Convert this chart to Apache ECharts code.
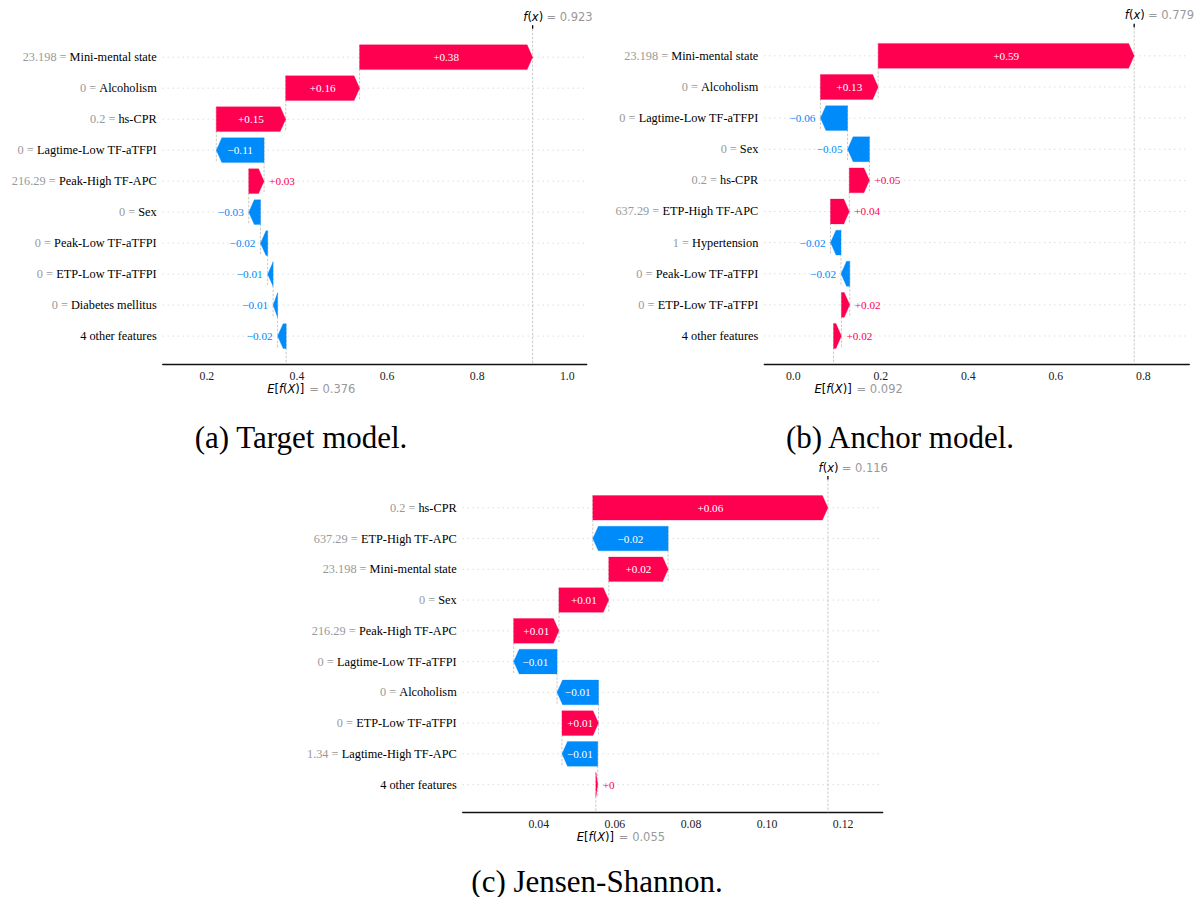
<!DOCTYPE html>
<html>
<head>
<meta charset="utf-8">
<script src="https://cdn.jsdelivr.net/npm/echarts@6/dist/echarts.min.js"></script>
<style>
html,body{margin:0;padding:0;background:#fff;}
#chart{width:1200px;height:897px;}
</style>
</head>
<body>
<div id="chart"></div>
<script>
// ---------------- DATA ----------------
// (a) Target model  (rows listed top to bottom)
const featuresA = ['Mini-mental state','Alcoholism','hs-CPR','Lagtime-Low TF-aTFPI','Peak-High TF-APC','Sex','Peak-Low TF-aTFPI','ETP-Low TF-aTFPI','Diabetes mellitus','4 other features'];
const featureValsA = ['23.198','0','0.2','0','216.29','0','0','0','0',''];
const shapA = [0.384, 0.164, 0.154, -0.106, 0.034, -0.026, -0.016, -0.012, -0.010, -0.019];
const baseA = 0.376;
const fxA = 0.923;
const ticksA = [0.2, 0.4, 0.6, 0.8, 1.0];

// (b) Anchor model
const featuresB = ['Mini-mental state','Alcoholism','Lagtime-Low TF-aTFPI','Sex','hs-CPR','ETP-High TF-APC','Hypertension','Peak-Low TF-aTFPI','ETP-Low TF-aTFPI','4 other features'];
const featureValsB = ['23.198','0','0','0','0.2','637.29','1','0','0',''];
const shapB = [0.585, 0.132, -0.062, -0.050, 0.046, 0.043, -0.024, -0.020, 0.019, 0.018];
const baseB = 0.092;
const fxB = 0.779;
const ticksB = [0.0, 0.2, 0.4, 0.6, 0.8];

// (c) Jensen-Shannon
const featuresC = ['hs-CPR','ETP-High TF-APC','Mini-mental state','Sex','Peak-High TF-APC','Lagtime-Low TF-aTFPI','Alcoholism','ETP-Low TF-aTFPI','Lagtime-High TF-APC','4 other features'];
const featureValsC = ['0.2','637.29','23.198','0','216.29','0','0','0','1.34',''];
const shapC = [0.0618, -0.0198, 0.0156, 0.0131, 0.0119, -0.0114, -0.0109, 0.0096, -0.0094, 0.0005];
const baseC = 0.055;
const fxC = 0.116;
const ticksC = [0.04, 0.06, 0.08, 0.10, 0.12];

const captions = ['(a) Target model.', '(b) Anchor model.', '(c) Jensen-Shannon.'];

// ---------------- STYLE / LAYOUT ----------------
const RED = '#ff0051', BLUE = '#008bfb';
const SERIF = '"Liberation Serif","Times New Roman",serif';
const SANS = '"DejaVu Sans",sans-serif';
const HEAD = 5.5;
const VAL_FONT = 11.2;

const panels = [
  {features: featuresA, fvals: featureValsA, shap: shapA, base: baseA, fx: fxA, ticks: ticksA, dec: 1,
   grid: {left: 162.7, top: 28.7, width: 424, height: 335.3}, xmin: 0.102, xmax: 1.043},
  {features: featuresB, fvals: featureValsB, shap: shapB, base: baseB, fx: fxB, ticks: ticksB, dec: 1,
   grid: {left: 764.3, top: 27.2, width: 425, height: 336.8}, xmin: -0.0663, xmax: 0.905},
  {features: featuresC, fvals: featureValsC, shap: shapC, base: baseC, fx: fxC, ticks: ticksC, dec: 2,
   grid: {left: 462.7, top: 479.5, width: 420, height: 332.8}, xmin: 0.0200, xmax: 0.1304}
];
const captionPos = [[301, 437], [900, 437], [597, 881]];

// ---------------- HELPERS ----------------
const measureCtx = document.createElement('canvas').getContext('2d');
function textWidth(t, size, fam) { measureCtx.font = size + 'px ' + fam; return measureCtx.measureText(t).width; }
function fmtVal(v) {
  let s = (Math.round(Math.abs(v) * 100) / 100).toFixed(2).replace(/\.?0+$/, '');
  if (s === '') s = '0';
  return (v < 0 ? '\u2212' : '+') + s;
}
function rowsData(p) {
  const n = p.shap.length;
  const out = new Array(n);
  let cum = p.base;
  for (let r = n - 1; r >= 0; r--) {
    const s = cum, e = cum + p.shap[r];
    out[r] = [s, r, e, p.shap[r]];
    cum = e;
  }
  return out;
}

function renderLines(params, api) {
  const s = api.value(0), r = api.value(1);
  const cs = params.coordSys;
  const p = api.coord([s, r]);
  const rowH = api.size([0, 1])[1];
  const y = p[1];
  const bottom = cs.y + cs.height;
  return {type: 'group', children: [
    {type: 'line', shape: {x1: cs.x, y1: y, x2: cs.x + cs.width, y2: y},
     style: {stroke: '#cccccc', lineWidth: 1, lineDash: [1, 4]}},
    {type: 'line', shape: {x1: p[0], y1: y - 0.4 * rowH, x2: p[0], y2: Math.min(y + 1.4 * rowH, bottom)},
     style: {stroke: '#bbbbbb', lineWidth: 0.8, lineDash: [2.5, 1.5]}}
  ]};
}

function renderBars(params, api) {
  const s = api.value(0), r = api.value(1), e = api.value(2), v = api.value(3);
  const p0 = api.coord([s, r]), p1 = api.coord([e, r]);
  const rowH = api.size([0, 1])[1];
  const h = 0.8 * rowH, y = p0[1];
  const len = Math.abs(p1[0] - p0[0]);
  const hl = Math.min(len, HEAD);
  const dir = v >= 0 ? 1 : -1;
  const neck = p1[0] - dir * hl;
  const col = v >= 0 ? RED : BLUE;
  const txt = fmtVal(v);
  const tw = textWidth(txt, VAL_FONT, SERIF);
  let label;
  if (tw + 4 < len) {
    label = {type: 'text', style: {text: txt, x: (p0[0] + p1[0]) / 2, y: y, align: 'center', verticalAlign: 'middle',
      fill: '#ffffff', fontSize: VAL_FONT, fontFamily: SERIF}};
  } else {
    label = {type: 'text', style: {text: txt, x: p1[0] + dir * 5, y: y, align: v >= 0 ? 'left' : 'right', verticalAlign: 'middle',
      fill: col, fontSize: VAL_FONT, fontFamily: SERIF}};
  }
  return {type: 'group', children: [
    {type: 'polygon', shape: {points: [[p0[0], y - h / 2], [neck, y - h / 2], [p1[0], y], [neck, y + h / 2], [p0[0], y + h / 2]]},
     style: {fill: col, stroke: col, lineWidth: 0.3}},
    label
  ]};
}

function renderAnno(params, api) {
  const base = api.value(0), fx = api.value(1);
  const cs = params.coordSys;
  const xf = api.coord([fx, 0])[0], xb = api.coord([base, 0])[0];
  const top = cs.y, bot = cs.y + cs.height;
  return {type: 'group', children: [
    {type: 'line', shape: {x1: xf, y1: top, x2: xf, y2: bot}, style: {stroke: '#bbbbbb', lineWidth: 0.8, lineDash: [2.5, 1.5]}},
    {type: 'line', shape: {x1: xf, y1: top - 3.5, x2: xf, y2: top}, style: {stroke: '#000000', lineWidth: 1.3}},
    {type: 'text', style: {text: '{i|f}{n|(}{i|x}{n|)}', x: xf - 9.3, y: top - 12, align: 'left', verticalAlign: 'middle',
      fill: '#000', fontSize: 11.5, fontFamily: SANS,
      rich: {i: {fontStyle: 'italic', fontSize: 11.5, fontFamily: SANS, fill: '#000'}, n: {fontSize: 11.5, fontFamily: SANS, fill: '#000'}}}},
    {type: 'text', style: {text: '= ' + fx.toFixed(3), x: xf + 13.8, y: top - 12, align: 'left', verticalAlign: 'middle',
      fill: '#999999', fontSize: 11.5, fontFamily: SANS}},
    {type: 'text', style: {text: '{i|E}{n|[}{i|f}{n|(}{i|X}{n|)]}', x: xb - 19, y: bot + 24.5, align: 'left', verticalAlign: 'middle',
      fill: '#000', fontSize: 11.5, fontFamily: SANS,
      rich: {i: {fontStyle: 'italic', fontSize: 11.5, fontFamily: SANS, fill: '#000'}, n: {fontSize: 11.5, fontFamily: SANS, fill: '#000'}}}},
    {type: 'text', style: {text: '= ' + base.toFixed(3), x: xb + 23, y: bot + 24.5, align: 'left', verticalAlign: 'middle',
      fill: '#999999', fontSize: 11.5, fontFamily: SANS}}
  ]};
}

// ---------------- OPTION ----------------
const grids = [], xAxes = [], yAxes = [], series = [];
panels.forEach((p, k) => {
  grids.push(Object.assign({containLabel: false, outerBoundsMode: 'none'}, p.grid));
  xAxes.push({type: 'value', gridIndex: k, min: p.xmin, max: p.xmax, position: 'bottom',
    axisLine: {show: true, onZero: false, lineStyle: {color: '#111', width: 1.3}},
    axisTick: {show: false}, splitLine: {show: false},
    axisLabel: {customValues: p.ticks, formatter: v => Number(v).toFixed(p.dec), margin: 6,
      color: '#222', fontSize: 11.8, fontFamily: SERIF}});
  const labels = p.features.map((f, i) => p.fvals[i] !== '' ? '{g|' + p.fvals[i] + ' = }{b|' + f + '}' : '{b|' + f + '}');
  yAxes.push({type: 'value', gridIndex: k, inverse: true, min: -0.92, max: 9.9,
    axisLine: {show: false, onZero: false}, axisTick: {show: false}, splitLine: {show: false},
    axisLabel: {customValues: p.features.map((f, i) => i), margin: 6,
      formatter: v => labels[Math.round(v)],
      rich: {g: {color: '#999999', fontSize: 12.3, fontFamily: SERIF}, b: {color: '#000000', fontSize: 12.3, fontFamily: SERIF}}}});
  const data = rowsData(p);
  series.push({type: 'custom', xAxisIndex: k, yAxisIndex: k, z: 1, clip: false, silent: true,
    renderItem: renderLines, data: data, encode: {x: [0, 2], y: 1}});
  series.push({type: 'custom', xAxisIndex: k, yAxisIndex: k, z: 3, clip: false, silent: true,
    renderItem: renderBars, data: data, encode: {x: [0, 2], y: 1}});
  series.push({type: 'custom', xAxisIndex: k, yAxisIndex: k, z: 2, clip: false, silent: true,
    renderItem: renderAnno, data: [[p.base, p.fx]], encode: {x: [0, 1]}});
});

const graphics = captions.map((c, k) => ({type: 'text', x: captionPos[k][0], y: captionPos[k][1],
  style: {text: c, align: 'center', verticalAlign: 'middle', fill: '#000', fontSize: 31, fontFamily: SERIF}}));

const chart = echarts.init(document.getElementById('chart'), null, {renderer: 'svg', width: 1200, height: 897});
chart.setOption({
  animation: false,
  backgroundColor: '#ffffff',
  grid: grids, xAxis: xAxes, yAxis: yAxes, series: series,
  graphic: graphics
});
</script>
</body>
</html>
